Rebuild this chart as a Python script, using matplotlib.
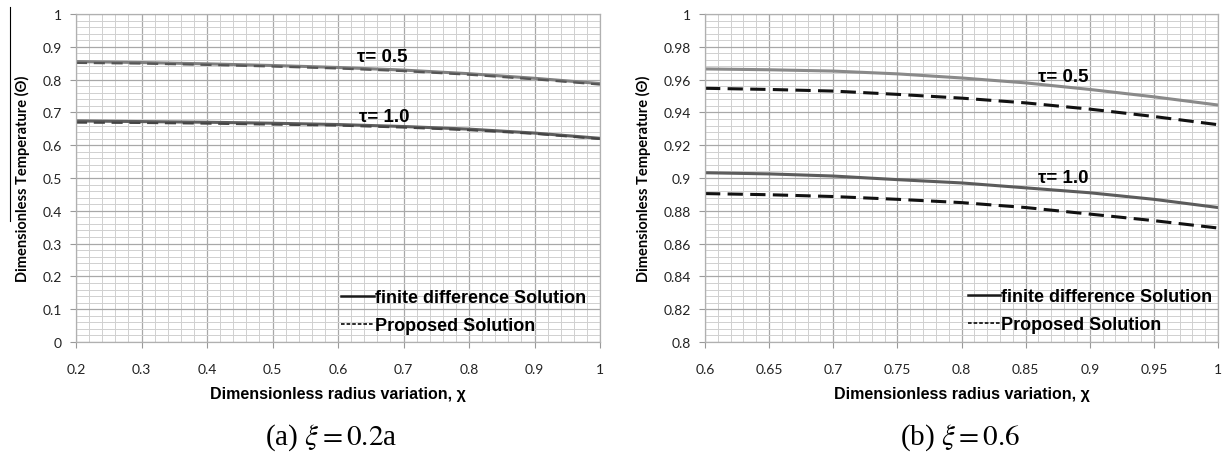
import matplotlib
matplotlib.use("Agg")
import matplotlib.pyplot as plt
from matplotlib.ticker import MultipleLocator, FuncFormatter
from matplotlib.lines import Line2D

# ---------------- data ----------------
# panel (a) xi = 0.2a
xa = [0.2, 0.3, 0.4, 0.5, 0.6, 0.7, 0.8, 0.9, 1.0]
a_fd_05 = [0.855, 0.852, 0.848, 0.843, 0.837, 0.829, 0.818, 0.804, 0.788]
a_pr_05 = [0.851, 0.849, 0.845, 0.840, 0.834, 0.826, 0.815, 0.801, 0.785]
a_fd_10 = [0.674, 0.672, 0.670, 0.667, 0.663, 0.657, 0.649, 0.637, 0.621]
a_pr_10 = [0.669, 0.668, 0.666, 0.663, 0.660, 0.654, 0.646, 0.635, 0.619]

# panel (b) xi = 0.6
xb = [0.6, 0.65, 0.7, 0.75, 0.8, 0.85, 0.9, 0.95, 1.0]
b_fd_05 = [0.9665, 0.966, 0.9652, 0.9635, 0.961, 0.958, 0.954, 0.9495, 0.9445]
b_pr_05 = [0.9547, 0.954, 0.953, 0.951, 0.9487, 0.9458, 0.942, 0.9375, 0.9325]
b_fd_10 = [0.9032, 0.9025, 0.9012, 0.899, 0.897, 0.894, 0.891, 0.887, 0.882]
b_pr_10 = [0.8905, 0.8898, 0.8887, 0.887, 0.885, 0.882, 0.878, 0.874, 0.8695]

legend_labels = ["finite difference Solution", "Proposed Solution"]
xlabel = "Dimensionless radius variation, χ"
ylabel = "Dimensionless Temperature (Θ)"
captions = ["(a) $\\xi = 0.2$a", "(b) $\\xi = 0.6$"]
tau_labels = ["τ= 0.5", "τ= 1.0"]

plt.rcParams['font.family'] = ['Liberation Sans', 'DejaVu Sans']
plt.rcParams['mathtext.fontset'] = 'stix'

fig = plt.figure(figsize=(12.26, 4.6), dpi=100)
W, H = 1226, 460
axA = fig.add_axes([76 / W, 1 - 343 / H, (600 - 76) / W, (343 - 15) / H])
axB = fig.add_axes([705 / W, 1 - 343 / H, (1218 - 705) / W, (343 - 15) / H])


def fmt(v, pos):
    s = f"{v:.2f}".rstrip('0').rstrip('.')
    return s if s != '-0' else '0'


def style(ax, xlim, ylim, xmaj, xmin, ymaj, ymin):
    ax.set_xlim(*xlim)
    ax.set_ylim(*ylim)
    ax.xaxis.set_major_locator(MultipleLocator(xmaj))
    ax.xaxis.set_minor_locator(MultipleLocator(xmin))
    ax.yaxis.set_major_locator(MultipleLocator(ymaj))
    ax.yaxis.set_minor_locator(MultipleLocator(ymin))
    ax.grid(which='major', color='#a8a8a8', lw=0.9)
    ax.grid(which='minor', color='#d0d0d0', lw=0.7)
    ax.set_axisbelow(True)
    for s in ax.spines.values():
        s.set_color('#b0b0b0')
        s.set_linewidth(0.9)
    ax.tick_params(which='major', length=4, color='#999999', labelsize=10,
                   labelcolor='#222222')
    ax.tick_params(axis='y', pad=6)
    ax.tick_params(axis='x', pad=11)
    ax.tick_params(which='minor', length=0)
    ax.xaxis.set_major_formatter(FuncFormatter(fmt))
    ax.yaxis.set_major_formatter(FuncFormatter(fmt))
    ax.set_xlabel(xlabel, fontsize=11.5, fontweight='bold', labelpad=8)
    ax.set_ylabel(ylabel, fontsize=10.5, fontweight='bold', labelpad=9,
                  family=['Lato', 'DejaVu Sans'])


style(axA, (0.2, 1.0), (0.0, 1.0), 0.1, 0.02, 0.1, 0.02)
style(axB, (0.6, 1.0), (0.8, 1.0), 0.05, 0.01, 0.02, 0.004)
for ax in (axA, axB):
    for lab in ax.get_xticklabels() + ax.get_yticklabels():
        lab.set_family(['Lato', 'DejaVu Sans'])

# panel a lines
axA.plot(xa, a_fd_05, color='#808080', lw=2.2)
axA.plot(xa, a_pr_05, color='#555555', lw=1.6, ls=(0, (5, 3)))
axA.plot(xa, a_fd_10, color='#5e5e5e', lw=2.2)
axA.plot(xa, a_pr_10, color='#444444', lw=1.6, ls=(0, (5, 3)))
axA.text(0.667, 0.869, tau_labels[0], ha='center', va='center', fontsize=13.5,
         fontweight='bold')
axA.text(0.670, 0.686, tau_labels[1], ha='center', va='center', fontsize=13.5,
         fontweight='bold')

# panel b lines
axB.plot(xb, b_fd_05, color='#8a8a8a', lw=2.2)
axB.plot(xb, b_pr_05, color='#111111', lw=2.2, ls=(0, (5, 2.4)))
axB.plot(xb, b_fd_10, color='#5c5c5c', lw=2.2)
axB.plot(xb, b_pr_10, color='#111111', lw=2.2, ls=(0, (5, 2.4)))
axB.text(0.879, 0.9619, tau_labels[0], ha='center', va='center', fontsize=13.5,
         fontweight='bold')
axB.text(0.879, 0.9006, tau_labels[1], ha='center', va='center', fontsize=13.5,
         fontweight='bold')

for ax, anchor in ((axA, (0.605, 0.0925)), (axB, (0.805, 0.8192))):
    handles = [Line2D([], [], color='#1a1a1a', lw=1.8),
               Line2D([], [], color='#1a1a1a', lw=1.3, ls=(0, (2.0, 1.1)))]
    ax.legend(handles, legend_labels, loc='center left', bbox_to_anchor=anchor,
              bbox_transform=ax.transData, frameon=False, handlelength=1.8,
              handletextpad=0.05, borderpad=0, borderaxespad=0,
              prop={'weight': 'bold', 'size': 13}, labelspacing=0.62)

fig.text(331 / W, 1 - 438 / H, captions[0], ha='center', va='center',
         fontsize=21, family='Liberation Serif')
fig.text(960 / W, 1 - 438 / H, captions[1], ha='center', va='center',
         fontsize=21, family='Liberation Serif')

# thin stray rule to the left of the first y label (present in the scan)
fig.add_artist(Line2D([10 / W, 10 / W], [1 - 8 / H, 1 - 222 / H], color='black', lw=0.8))

fig.savefig("out.png", dpi=100)
